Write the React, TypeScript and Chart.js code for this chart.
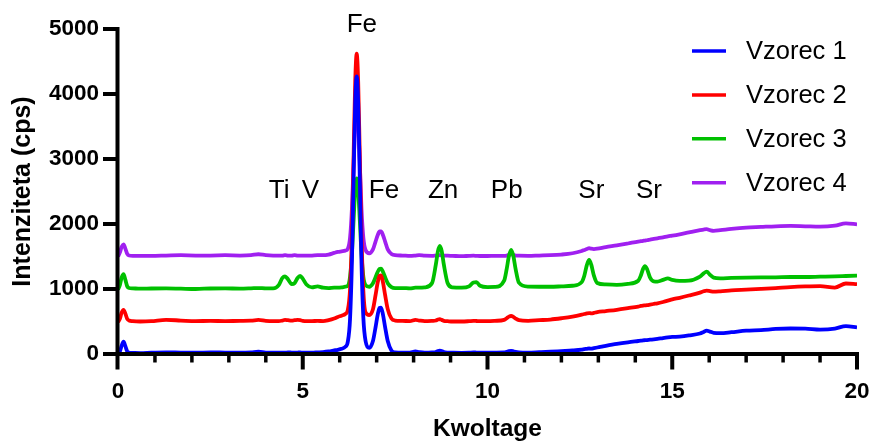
import { useEffect, useRef } from 'react';
import { Chart, registerables } from 'chart.js';

Chart.register(...registerables);

// Energy axis (keV) shared by all four spectra
const energy = [
  0, 0.05, 0.1, 0.15, 0.2, 0.25, 0.3, 0.4, 0.6,
  0.9, 1.3, 1.7, 2.1, 2.5, 2.9, 3.3, 3.6, 3.8, 4.0, 4.2,
  4.35, 4.45, 4.52, 4.6, 4.7, 4.78, 4.86, 4.93, 5.0, 5.1, 5.25, 5.4, 5.55, 5.7, 5.85,
  5.95, 6.05, 6.15, 6.22, 6.28, 6.33, 6.38, 6.42, 6.46, 6.5, 6.54, 6.59, 6.64, 6.7, 6.8, 6.9, 6.97, 7.03, 7.08, 7.12, 7.17, 7.23, 7.3, 7.4, 7.5,
  7.7, 7.9, 8.05, 8.15, 8.3,
  8.5, 8.6, 8.66, 8.71, 8.76, 8.82, 8.92, 9.05, 9.3, 9.5, 9.62, 9.7, 9.8, 10.0, 10.2,
  10.45, 10.52, 10.58, 10.64, 10.7, 10.76, 10.85, 11.1, 11.4, 11.7, 12.0, 12.3,
  12.55, 12.62, 12.69, 12.75, 12.81, 12.88, 12.97, 13.2, 13.5, 13.8,
  14.08, 14.15, 14.21, 14.26, 14.32, 14.4, 14.5, 14.6, 14.75, 14.88, 15.0, 15.2, 15.45,
  15.75, 15.85, 15.93, 16.02, 16.12, 16.3, 16.6, 17.0, 17.4, 17.8, 18.2, 18.6, 19.0, 19.4, 19.7, 20.0,
];

const vzorec1 = [
  10, 40, 130, 190, 120, 40, 22, 18, 15,
  20, 25, 22, 20, 25, 22, 20, 25, 35, 22, 20,
  20, 22, 20, 25, 22, 20, 22, 25, 20, 22, 20, 25, 30, 40, 55,
  65, 80, 110, 190, 540, 1400, 2820, 3870, 4270, 3870, 2820, 1400, 560, 200, 95, 200, 410, 610, 710, 715, 610, 410, 200, 55, 25,
  20, 22, 40, 30, 22,
  25, 30, 45, 50, 45, 30, 22, 20, 18, 20, 25, 22, 20, 20, 22,
  25, 35, 45, 48, 42, 32, 25, 22, 28, 35, 45, 55,
  68, 75, 80, 85, 82, 90, 100, 125, 155, 180,
  200, 205, 210, 212, 215, 220, 225, 232, 245, 255, 262, 268, 285,
  315, 340, 360, 345, 325, 320, 335, 360, 368, 385, 392, 390, 375, 390, 430, 410,
];

const vzorec2 = [
  490, 540, 640, 680, 620, 540, 515, 505, 500,
  505, 525, 515, 505, 510, 505, 510, 512, 525, 510, 505,
  505, 515, 525, 520, 515, 520, 525, 520, 510, 505, 505, 510, 505, 520, 545,
  570, 590, 615, 680, 1000, 1800, 3150, 4190, 4620, 4190, 3150, 1800, 970, 640, 600, 690, 905, 1105, 1205, 1210, 1105, 905, 690, 545, 515,
  510, 505, 525, 515, 505,
  510, 515, 530, 535, 525, 510, 505, 500, 500, 505, 510, 508, 505, 505, 510,
  525, 550, 575, 585, 570, 545, 520, 510, 520, 530, 550, 575,
  605, 615, 625, 630, 625, 632, 645, 660, 680, 705,
  730, 740, 745, 748, 752, 760, 770, 780, 800, 820, 840, 865, 900,
  945, 965, 975, 968, 960, 965, 978, 990, 1002, 1015, 1030, 1040, 1045, 1022, 1085, 1075,
];

const vzorec3 = [
  990, 1060, 1180, 1230, 1140, 1040, 1015, 1010, 1005,
  1008, 1010, 1005, 1000, 1008, 1010, 1005, 1010, 1015, 1010, 1010,
  1060, 1170, 1195, 1150, 1075, 1090, 1170, 1200, 1160, 1070, 1025, 1040, 1020, 1015, 1020,
  1020, 1025, 1035, 1050, 1190, 1540, 2100, 2530, 2700, 2530, 2100, 1540, 1190, 1060, 1035, 1090, 1180, 1265, 1310, 1315, 1265, 1180, 1090, 1030, 1015,
  1015, 1010, 1020, 1020, 1025,
  1092, 1370, 1587, 1665, 1587, 1370, 1092, 1025, 1020, 1040, 1100, 1105, 1050, 1030, 1032,
  1128, 1310, 1507, 1600, 1507, 1310, 1097, 1036, 1035, 1035, 1040, 1050,
  1106, 1205, 1371, 1446, 1371, 1205, 1093, 1070, 1065, 1080,
  1127, 1208, 1310, 1352, 1303, 1175, 1118, 1115, 1140, 1164, 1140, 1125, 1128,
  1190, 1240, 1267, 1220, 1175, 1165, 1170, 1175, 1178, 1180, 1185, 1185, 1190, 1195, 1200, 1205,
];

const vzorec4 = [
  1500, 1560, 1650, 1687, 1620, 1540, 1515, 1510, 1510,
  1510, 1515, 1520, 1515, 1515, 1520, 1515, 1520, 1535, 1520, 1515,
  1515, 1515, 1520, 1515, 1515, 1520, 1515, 1515, 1515, 1512, 1515, 1520, 1520, 1530, 1555,
  1570, 1580, 1590, 1620, 1790, 2230, 2990, 3575, 3820, 3575, 2990, 2230, 1790, 1600, 1550, 1610, 1730, 1830, 1885, 1885, 1830, 1730, 1610, 1540, 1520,
  1515, 1510, 1515, 1520, 1512,
  1510, 1515, 1518, 1520, 1518, 1515, 1512, 1510, 1505, 1510, 1512, 1510, 1508, 1508, 1510,
  1510, 1515, 1525, 1535, 1525, 1515, 1512, 1510, 1515, 1520, 1530, 1550,
  1585, 1600, 1615, 1630, 1620, 1615, 1620, 1645, 1670, 1700,
  1730, 1735, 1740, 1745, 1750, 1760, 1770, 1780, 1795, 1810, 1820, 1840, 1870,
  1905, 1915, 1920, 1905, 1895, 1905, 1925, 1945, 1955, 1965, 1970, 1965, 1960, 1975, 2010, 1995,
];

const seriesLabels = ['Vzorec 1', 'Vzorec 2', 'Vzorec 3', 'Vzorec 4'];
const seriesColors = ['#0000ff', '#ff0000', '#00c000', '#a020f0'];

// Element annotations placed in data coordinates
const peakLabels = ['Fe', 'Ti', 'V', 'Fe', 'Zn', 'Pb', 'Sr', 'Sr'];
const peakLabelX = [6.6, 4.36, 5.21, 7.2, 8.8, 10.52, 12.81, 14.37];
const peakLabelY = [5070, 2510, 2510, 2510, 2510, 2510, 2510, 2510];

const xMajorTicks = [0, 5, 10, 15, 20];
const xMinorTicks = [1, 2, 3, 4, 6, 7, 8, 9, 11, 12, 13, 14, 16, 17, 18, 19];
const yTicks = [0, 1000, 2000, 3000, 4000, 5000];

const FONT = "'Liberation Sans', Arial, Helvetica, sans-serif";

const decorPlugin = {
  id: 'decor',
  afterDraw(chart: any) {
    const { ctx, chartArea: a } = chart;
    const xs = chart.scales.x;
    const ys = chart.scales.y;
    ctx.save();
    ctx.strokeStyle = '#000';
    ctx.lineCap = 'butt';
    // axes
    ctx.lineWidth = 4;
    ctx.beginPath();
    ctx.moveTo(a.left - 0.5, a.top - 2);
    ctx.lineTo(a.left - 0.5, a.bottom);
    ctx.moveTo(a.left - 2.5, a.bottom);
    ctx.lineTo(a.right + 2, a.bottom);
    ctx.stroke();
    // y ticks
    ctx.beginPath();
    yTicks.forEach((v) => {
      const py = ys.getPixelForValue(v);
      ctx.moveTo(a.left - 15, py);
      ctx.lineTo(a.left, py);
    });
    ctx.stroke();
    // x major ticks
    ctx.beginPath();
    xMajorTicks.forEach((v) => {
      const px = xs.getPixelForValue(v) - (v === 0 ? 0.5 : 0);
      ctx.moveTo(px, a.bottom);
      ctx.lineTo(px, a.bottom + 15.5);
    });
    ctx.stroke();
    // x minor ticks
    ctx.lineWidth = 3.5;
    ctx.beginPath();
    xMinorTicks.forEach((v) => {
      const px = xs.getPixelForValue(v);
      ctx.moveTo(px, a.bottom);
      ctx.lineTo(px, a.bottom + 8.5);
    });
    ctx.stroke();

    // annotations
    ctx.fillStyle = '#000';
    ctx.font = `26px ${FONT}`;
    ctx.textAlign = 'center';
    ctx.textBaseline = 'middle';
    peakLabels.forEach((t, i) => {
      ctx.fillText(t, xs.getPixelForValue(peakLabelX[i]), ys.getPixelForValue(peakLabelY[i]));
    });

    // legend
    const lx = a.right - 165;
    const ly = a.top + 22;
    ctx.font = `25.5px ${FONT}`;
    ctx.textAlign = 'left';
    chart.data.datasets.forEach((ds: any, i: number) => {
      const yy = ly + i * 43.9;
      ctx.strokeStyle = ds.borderColor;
      ctx.lineWidth = 3.5;
      ctx.beginPath();
      ctx.moveTo(lx, yy);
      ctx.lineTo(lx + 34, yy);
      ctx.stroke();
      ctx.fillStyle = '#000';
      ctx.fillText(ds.label, lx + 54, yy + 1);
    });
    ctx.restore();
  },
};

export default function App() {
  const ref = useRef<HTMLCanvasElement>(null);

  useEffect(() => {
    if (!ref.current) return;
    const series = [vzorec1, vzorec2, vzorec3, vzorec4];
    const chart = new Chart(ref.current, {
      type: 'line',
      data: {
        datasets: series.map((s, k) => ({
          label: seriesLabels[k],
          data: energy.map((e, i) => ({ x: e, y: s[i] })),
          borderColor: seriesColors[k],
          backgroundColor: seriesColors[k],
          borderWidth: 3.8,
          pointRadius: 0,
          fill: false,
          cubicInterpolationMode: 'monotone',
        })),
      },
      options: {
        responsive: false,
        animation: false,
        layout: { padding: { top: 29, right: 17, left: 0, bottom: 0 } },
        plugins: {
          legend: { display: false },
          tooltip: { enabled: false },
          title: { display: false },
        },
        scales: {
          x: {
            type: 'linear',
            min: 0,
            max: 20,
            grid: { display: false, drawTicks: false },
            border: { display: false },
            ticks: {
              stepSize: 5,
              padding: 24,
              color: '#000',
              font: { family: FONT, size: 22.5, weight: 'bold' },
              maxRotation: 0,
              callback: (v: any) => String(v),
            },
            title: {
              display: true,
              text: 'Kwoltage',
              color: '#000',
              font: { family: FONT, size: 24.5, weight: 'bold' },
              padding: { top: 0, bottom: -3 },
            },
            afterFit: (scale: any) => {
              scale.height = 87;
              scale.paddingLeft = 0;
              scale.paddingRight = 0;
            },
          },
          y: {
            type: 'linear',
            min: 0,
            max: 5000,
            grid: { display: false, drawTicks: false },
            border: { display: false },
            ticks: {
              stepSize: 1000,
              padding: 19,
              color: '#000',
              font: { family: FONT, size: 22.5, weight: 'bold' },
              callback: (v: any) => String(v),
            },
            title: {
              display: true,
              text: 'Intenziteta (cps)',
              color: '#000',
              font: { family: FONT, size: 25, weight: 'bold' },
              padding: { top: 8, bottom: 0 },
            },
            afterFit: (scale: any) => {
              scale.width = 118;
              scale.paddingTop = 0;
              scale.paddingBottom = 0;
            },
          },
        },
      },
      plugins: [decorPlugin],
    });
    return () => chart.destroy();
  }, []);

  return (
    <div style={{ position: 'absolute', left: 0, top: 0, width: 874, height: 441, background: '#fff' }}>
      <canvas ref={ref} width={874} height={441} style={{ display: 'block' }} />
    </div>
  );
}
